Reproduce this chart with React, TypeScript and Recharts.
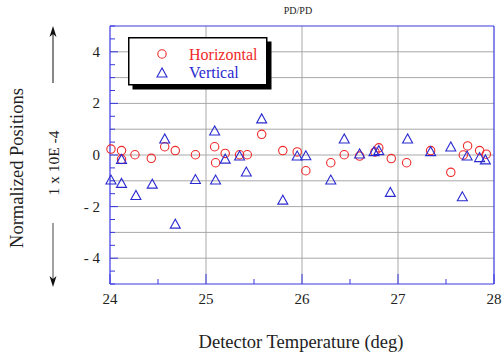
import React from 'react';
import { ScatterChart, Scatter, XAxis, YAxis, ReferenceLine, Legend } from 'recharts';

const hTemp = [24.01, 24.12, 24.12, 24.26, 24.43, 24.57, 24.68, 24.89, 25.09, 25.10, 25.20, 25.35, 25.43, 25.58, 25.80, 25.95, 26.04, 26.30, 26.44, 26.60, 26.76, 26.80, 26.93, 27.09, 27.34, 27.55, 27.68, 27.725, 27.85, 27.92];
const hPos = [0.23, 0.17, -0.17, 0.01, -0.13, 0.32, 0.17, 0.01, 0.32, -0.30, 0.06, 0.01, 0.01, 0.80, 0.17, 0.12, -0.61, -0.30, 0.01, -0.04, 0.12, 0.28, -0.14, -0.30, 0.17, -0.67, 0.0, 0.35, 0.17, 0.03];

const vTemp = [24.01, 24.12, 24.12, 24.27, 24.44, 24.57, 24.68, 24.89, 25.09, 25.10, 25.20, 25.35, 25.42, 25.58, 25.80, 25.95, 26.04, 26.30, 26.44, 26.60, 26.75, 26.80, 26.92, 27.10, 27.34, 27.55, 27.67, 27.72, 27.85, 27.91];
const vPos = [-0.97, -0.17, -1.10, -1.57, -1.13, 0.62, -2.68, -0.95, 0.93, -0.97, -0.16, -0.04, -0.66, 1.40, -1.75, -0.04, -0.03, -0.97, 0.62, 0.04, 0.13, 0.17, -1.45, 0.62, 0.13, 0.31, -1.62, -0.04, -0.10, -0.19];

const xTicks = [24, 24.5, 25, 25.5, 26, 26.5, 27, 27.5, 28];
const yTicks = [-5, -4.5, -4, -3.5, -3, -2.5, -2, -1.5, -1, -0.5, 0, 0.5, 1, 1.5, 2, 2.5, 3, 3.5, 4, 4.5, 5];
const xGrid = [25, 26, 27];
const yGrid = [-4, -3, -2, -1, 0, 1, 2, 3, 4];
const xDomain: [number, number] = [24, 28];
const yDomain: [number, number] = [-5, 5];

const horizontal = hTemp.map((x, i) => ({ x, y: hPos[i] }));
const vertical = vTemp.map((x, i) => ({ x, y: vPos[i] }));

const RED = '#f02828';
const BLUE = '#2a2ad0';
const AXIS = '#3838e0';
const GRID = '#a8a8a8';
const SERIF = '"Liberation Serif", "Times New Roman", serif';
const serifStyle = { fontFamily: SERIF };

const fmtY = (v: number) => (v < 0 ? `- ${Math.abs(v)}` : `${v}`);

const CircleShape = (p: any) => (
  <circle cx={p.cx} cy={p.cy} r={4.2} fill="none" stroke={RED} strokeWidth={1.1} />
);
const TriShape = (p: any) => (
  <polygon
    points={`${p.cx},${p.cy - 5} ${p.cx - 5},${p.cy + 4} ${p.cx + 5},${p.cy + 4}`}
    fill="none"
    stroke={BLUE}
    strokeWidth={1.1}
  />
);

const BottomTick = (p: any) => {
  const v = p.payload.value;
  const major = Number.isInteger(v);
  return (
    <g>
      <line x1={p.x} y1={p.y} x2={p.x} y2={p.y - (major ? 10 : 5)} stroke={AXIS} strokeWidth={1} />
      {major && (
        <text x={p.x} y={p.y + 20} textAnchor="middle" fontSize={15} style={serifStyle} fill="#222">
          {v}
        </text>
      )}
    </g>
  );
};
const TopTick = (p: any) => {
  const v = p.payload.value;
  const major = Number.isInteger(v);
  return <line x1={p.x} y1={p.y} x2={p.x} y2={p.y + (major ? 10 : 5)} stroke={AXIS} strokeWidth={1} />;
};
const LeftTick = (p: any) => {
  const v = p.payload.value;
  const major = Number.isInteger(v) && v % 2 === 0;
  const show = major && Math.abs(v) < 5;
  return (
    <g>
      <line x1={p.x} y1={p.y} x2={p.x + (major ? 8 : 5)} y2={p.y} stroke={AXIS} strokeWidth={1} />
      {show && (
        <text x={p.x - 10} y={p.y + 5} textAnchor="end" fontSize={15} style={serifStyle} fill="#222">
          {fmtY(v)}
        </text>
      )}
    </g>
  );
};
const RightTick = (p: any) => {
  const v = p.payload.value;
  const major = Number.isInteger(v) && v % 2 === 0;
  return <line x1={p.x} y1={p.y} x2={p.x - (major ? 8 : 5)} y2={p.y} stroke={AXIS} strokeWidth={1} />;
};

const LegendBox = () => (
  <svg width={145} height={54} style={{ display: 'block' }}>
    <rect x={4.5} y={4.5} width={139} height={48} fill="#000" />
    <rect x={0.75} y={0.75} width={138} height={47} fill="#fff" stroke="#000" strokeWidth={1.5} />
    <circle cx={34} cy={17} r={4.2} fill="none" stroke={RED} strokeWidth={1.1} />
    <text x={61} y={22.5} fontSize={16} style={serifStyle} fill={RED}>Horizontal</text>
    <polygon points="34,31 29,40 39,40" fill="none" stroke={BLUE} strokeWidth={1.1} />
    <text x={61} y={41} fontSize={16} style={serifStyle} fill={BLUE}>Vertical</text>
  </svg>
);

export default function App() {
  return (
    <div style={{ position: 'fixed', left: 0, top: 0, width: 502, height: 354, background: '#fff', fontFamily: SERIF }}>
      <ScatterChart width={502} height={354} margin={{ top: 6, right: 0, bottom: 50, left: 80 }}>
        <XAxis
          type="number"
          dataKey="x"
          domain={xDomain}
          ticks={xTicks}
          interval={0}
          tickSize={0}
          tickMargin={0}
          height={20}
          axisLine={{ stroke: AXIS, strokeWidth: 1.2 }}
          tickLine={false}
          tick={BottomTick}
        />
        <XAxis
          xAxisId="top"
          orientation="top"
          type="number"
          domain={xDomain}
          ticks={xTicks}
          interval={0}
          tickSize={0}
          tickMargin={0}
          height={20}
          axisLine={{ stroke: AXIS, strokeWidth: 1.2 }}
          tickLine={false}
          tick={TopTick}
        />
        <YAxis
          type="number"
          dataKey="y"
          domain={yDomain}
          ticks={yTicks}
          interval={0}
          tickSize={0}
          tickMargin={0}
          width={30}
          axisLine={{ stroke: AXIS, strokeWidth: 1.2 }}
          tickLine={false}
          tick={LeftTick}
        />
        <YAxis
          yAxisId="right"
          orientation="right"
          type="number"
          domain={yDomain}
          ticks={yTicks}
          interval={0}
          tickSize={0}
          tickMargin={0}
          width={8}
          axisLine={{ stroke: AXIS, strokeWidth: 1.2 }}
          tickLine={false}
          tick={RightTick}
        />
        {xGrid.map((g) => (
          <ReferenceLine key={`gx${g}`} x={g} stroke={GRID} strokeWidth={1} />
        ))}
        {yGrid.map((g) => (
          <ReferenceLine key={`gy${g}`} y={g} stroke={GRID} strokeWidth={1} />
        ))}
        <Legend
          layout="horizontal"
          verticalAlign="middle"
          align="center"
          wrapperStyle={{ left: 128, top: 37, width: 145, height: 54 }}
          content={() => <LegendBox />}
        />
        <Scatter name="Horizontal" data={horizontal} shape={CircleShape} isAnimationActive={false} />
        <Scatter name="Vertical" data={vertical} shape={TriShape} isAnimationActive={false} />
      </ScatterChart>
      <svg
        width={502}
        height={354}
        style={{ position: 'absolute', left: 0, top: 0, pointerEvents: 'none' }}
      >
        <text x={298} y={14} textAnchor="middle" fontSize={10} style={serifStyle} fill="#222">PD/PD</text>
        <text
          x={0}
          y={0}
          transform="translate(23,168) rotate(-90)"
          textAnchor="middle"
          fontSize={18.5}
          style={serifStyle}
          fill="#222"
        >
          Normalized Positions
        </text>
        <text
          x={0}
          y={0}
          transform="translate(59,163) rotate(-90)"
          textAnchor="middle"
          fontSize={15.5}
          style={serifStyle}
          fill="#222"
        >
          1 x 10E -4
        </text>
        <line x1={53} y1={83} x2={53} y2={32} stroke="#111" strokeWidth={1} />
        <polygon points="53,26 49.5,37 53,34 56.5,37" fill="#111" />
        <line x1={53} y1={223} x2={53} y2={281} stroke="#444" strokeWidth={1} />
        <polygon points="53,287 49.5,276 53,279 56.5,276" fill="#111" />
        <text x={301} y={348} textAnchor="middle" fontSize={18.5} style={serifStyle} fill="#222">
          Detector Temperature (deg)
        </text>
      </svg>
    </div>
  );
}
